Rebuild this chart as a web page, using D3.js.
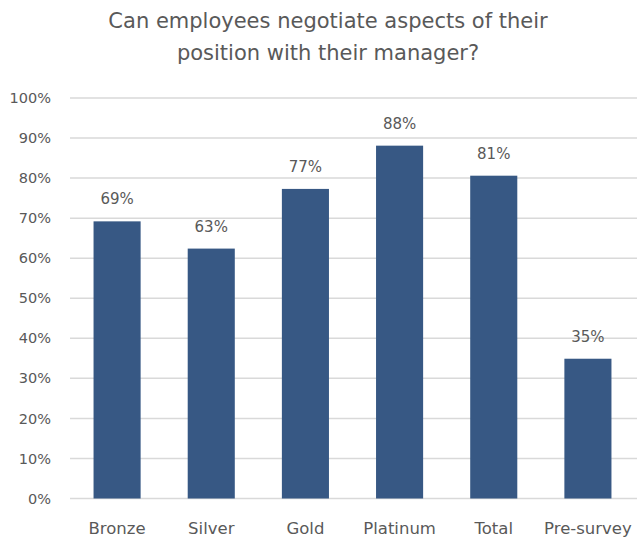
<!DOCTYPE html>
<html>
<head>
<meta charset="utf-8">
<script src="https://cdn.jsdelivr.net/npm/d3@7"></script>
<style>
  body { margin: 0; background: #fff; }
  text { font-family: "DejaVu Sans", "Noto Sans", sans-serif; fill: #595959; }
</style>
</head>
<body>
<div id="chart"></div>
<script>
var categories = ["Bronze", "Silver", "Gold", "Platinum", "Total", "Pre-survey"];
var values = [0.692, 0.624, 0.773, 0.881, 0.806, 0.349];
var labels = ["69%", "63%", "77%", "88%", "81%", "35%"];
var yTicks = [0, 0.1, 0.2, 0.3, 0.4, 0.5, 0.6, 0.7, 0.8, 0.9, 1.0];

var width = 637, height = 542;
var margin = {top: 98, right: 2, bottom: 43, left: 70};

var svg = d3.select("#chart").append("svg")
    .attr("width", width)
    .attr("height", height);

var x = d3.scaleBand()
    .domain(categories)
    .range([margin.left, width - margin.right])
    .paddingInner(0.5)
    .paddingOuter(0.25);

var y = d3.scaleLinear()
    .domain([0, 1])
    .range([height - margin.bottom - 0.5, margin.top]);

// title
var title = svg.append("text")
    .attr("text-anchor", "middle")
    .style("font-size", "21px");
title.append("tspan")
    .attr("x", 328).attr("y", 28)
    .text("Can employees negotiate aspects of their");
title.append("tspan")
    .attr("x", 328).attr("y", 60)
    .text("position with their manager?");

// gridlines
svg.append("g")
    .selectAll("line")
    .data(yTicks)
    .enter()
    .append("line")
    .attr("x1", margin.left)
    .attr("x2", width)
    .attr("y1", function (d) {return y(d);})
    .attr("y2", function (d) {return y(d);})
    .attr("stroke", "#d9d9d9")
    .attr("stroke-width", 1.5);

// y axis labels
var yAxis = d3.axisLeft(y)
    .tickValues(yTicks)
    .tickFormat(d3.format(".0%"))
    .tickSize(0)
    .tickPadding(0);
var gy = svg.append("g")
    .attr("transform", "translate(51,0)")
    .call(yAxis);
gy.select(".domain").remove();
gy.selectAll("text").style("font-size", "14.5px").attr("font-family", null).attr("fill", "#595959");

// bars
svg.append("g")
    .selectAll("rect")
    .data(values)
    .enter()
    .append("rect")
    .attr("x", function (d, i) {return x(categories[i]);})
    .attr("width", x.bandwidth())
    .attr("y", function (d) {return y(d);})
    .attr("height", function (d) {return y(0) - y(d);})
    .attr("fill", "#375884");

// value labels
svg.append("g")
    .selectAll("text")
    .data(values)
    .enter()
    .append("text")
    .attr("x", function (d, i) {return x(categories[i]) + x.bandwidth() / 2;})
    .attr("y", function (d) {return y(d) - 17;})
    .attr("text-anchor", "middle")
    .style("font-size", "15px")
    .text(function (d, i) {return labels[i];});

// x axis labels
var xAxis = d3.axisBottom(x).tickSize(0).tickPadding(0);
var gx = svg.append("g")
    .attr("transform", "translate(0,534)")
    .call(xAxis);
gx.select(".domain").remove();
gx.selectAll("text").style("font-size", "16.5px").attr("font-family", null).attr("fill", "#595959").attr("dy", "0");
</script>
</body>
</html>
